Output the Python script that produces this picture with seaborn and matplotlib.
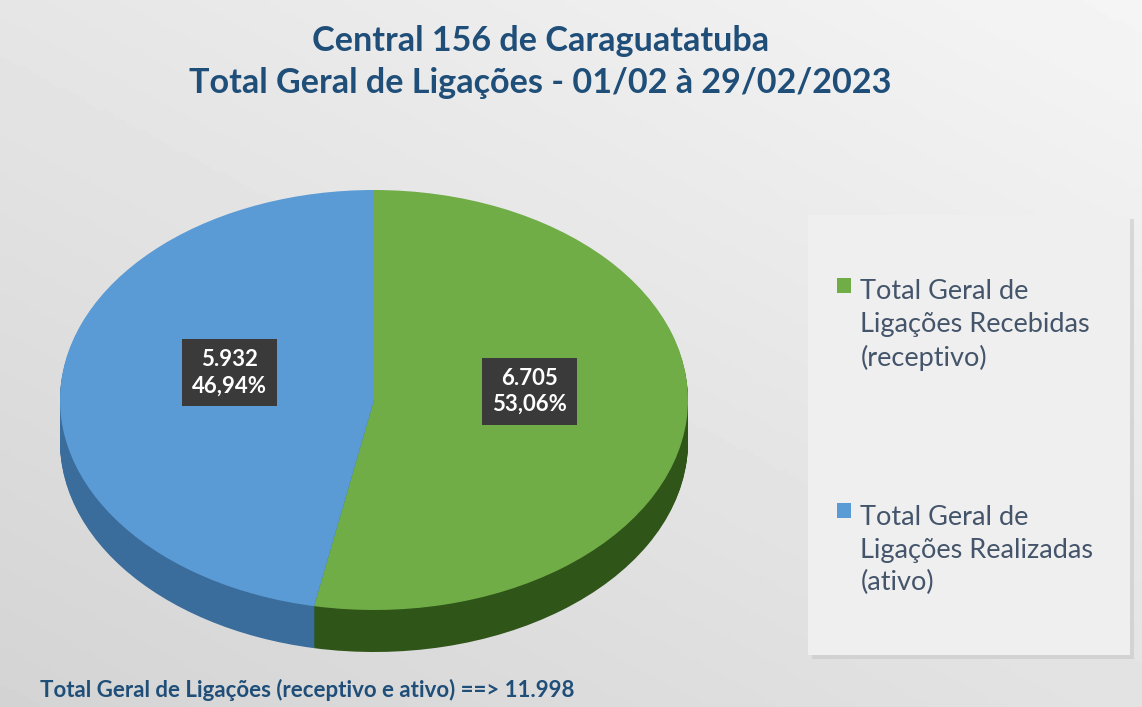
import numpy as np
import matplotlib
matplotlib.use('Agg')
import matplotlib.pyplot as plt
import seaborn as sns
from matplotlib.patches import Rectangle

# data
categories = ['Total Geral de\nLigações Recebidas\n(receptivo)',
              'Total Geral de\nLigações Realizadas\n(ativo)']
values = [6705, 5932]
top_colors = ['#70ad47', '#5b9bd5']
side_colors = ['#2f5519', '#3a6d9c']
title = 'Central 156 de Caraguatatuba\nTotal Geral de Ligações - 01/02 à 29/02/2023'
footer = 'Total Geral de Ligações (receptivo e ativo) ==> 11.998'

sns.set_theme(style='white')
plt.rcParams['font.family'] = ['Lato', 'DejaVu Sans']

W, H = 1142, 707
fig = plt.figure(figsize=(W / 100, H / 100), dpi=100)

# background gradient
bg = fig.add_axes([0, 0, 1, 1])
gx, gy = np.meshgrid(np.linspace(0, 1, 200), np.linspace(0, 1, 200))
grad = 0.83 + 0.07 * (1 - gy) + 0.06 * gx
bg.imshow(grad, cmap='gray', vmin=0, vmax=1, extent=[0, W, H, 0], aspect='auto')
bg.set_xlim(0, W)
bg.set_ylim(H, 0)
bg.axis('off')

# legend panel
bg.add_patch(Rectangle((812, 219), 322, 440, fc='#c8c8c8', ec='none', alpha=0.6))
bg.add_patch(Rectangle((808, 215), 322, 440, fc='#efefef', ec='none'))

# pie axes (ellipse from stretched axes)
left, right, top, bottom = 60, 688, 190, 652
depth = 0.2
pax = fig.add_axes([left / W, (H - bottom) / H, (right - left) / W, (bottom - top) / H])

total = sum(values)

for k in np.linspace(depth, 0.005, 40):
    pax.pie(values, colors=side_colors, startangle=90, counterclock=False,
            center=(0, -k), radius=1, frame=True,
            wedgeprops=dict(linewidth=0))

def fmt(pct):
    v = int(round(pct * total / 100))
    return f"{v:,}".replace(',', '.') + '\n' + f"{pct:.2f}".replace('.', ',') + '%'

wedges, _, autotexts = pax.pie(values, colors=top_colors, startangle=90, counterclock=False,
                               center=(0, 0), radius=1, frame=True, autopct=fmt,
                               pctdistance=0.5, wedgeprops=dict(linewidth=0))
pax.set_aspect('auto')
pax.set_xlim(-1, 1)
pax.set_ylim(-1 - depth, 1)
pax.axis('off')

label_pos = [(0.495, 0.04), (-0.46, 0.13)]
for t, pos in zip(autotexts, label_pos):
    t.set_position(pos)
    t.set_color('white')
    t.set_fontsize(16)
    t.set_fontweight('bold')
    t.set_linespacing(1.3)
    t.set_bbox(dict(boxstyle='square,pad=0.45', fc='#3a3a3a', ec='none'))

fig.text(0.473, 1 - 62 / H, title, ha='center', va='center', fontsize=24.6,
         fontweight='bold', color='#1f4e79', linespacing=1.35)
fig.text(40 / W, 1 - 690 / H, footer, ha='left', va='center', fontsize=16,
         fontweight='bold', color='#1f4e79')

leg = fig.legend(wedges, categories, loc='upper left',
                 bbox_to_anchor=(813 / W, 1 - 255 / H), frameon=False,
                 fontsize=19.5, labelspacing=4.95, handlelength=0.5, handleheight=0.5,
                 handletextpad=0.35, labelcolor='#44546a')
for txt in leg.get_texts():
    txt.set_linespacing(1.38)
for p in leg.get_patches():
    p.set_y(p.get_y() + 29)

fig.savefig('out.png', dpi=100)
